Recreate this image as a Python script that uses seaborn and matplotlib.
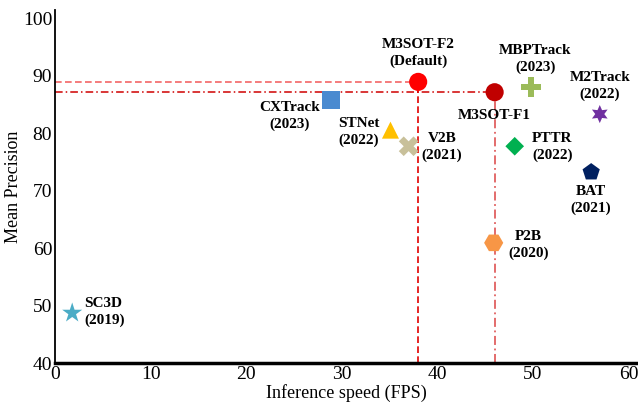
import matplotlib
matplotlib.use("Agg")
import matplotlib.pyplot as plt
import pandas as pd
import seaborn as sns

# values
methods = ["M3SOT-F2", "M3SOT-F1", "CXTrack", "STNet", "V2B", "MBPTrack",
           "M2Track", "PTTR", "BAT", "P2B", "SC3D"]
labels = ["M3SOT-F2\n(Default)", "M3SOT-F1", "CXTrack\n(2023)", "STNet\n(2022)",
          "V2B\n(2021)", "MBPTrack\n(2023)", "M2Track\n(2022)", "PTTR\n(2022)",
          "BAT\n(2021)", "P2B\n(2020)", "SC3D\n(2019)"]
fps = [38.0, 46.0, 28.9, 35.1, 37.0, 49.8, 57.0, 48.1, 56.1, 45.9, 1.8]
precision = [88.9, 87.1, 85.7, 80.5, 77.7, 88.0, 83.3, 77.7, 73.2, 60.9, 48.7]

colors = {
    "M3SOT-F2": "#ff0000", "M3SOT-F1": "#c00000", "CXTrack": "#4a8ad0",
    "STNet": "#ffc000", "V2B": "#c8c09a", "MBPTrack": "#9bbb59",
    "M2Track": "#7030a0", "PTTR": "#00b050", "BAT": "#002060",
    "P2B": "#f79646", "SC3D": "#4bacc6",
}
markers = {
    "M3SOT-F2": "o", "M3SOT-F1": "o", "CXTrack": "s", "STNet": "^",
    "V2B": "X", "MBPTrack": "P", "M2Track": (6, 1, 0), "PTTR": "D",
    "BAT": "p", "P2B": "H", "SC3D": "*",
}
sizes = {
    "M3SOT-F2": 170, "M3SOT-F1": 170, "CXTrack": 170, "STNet": 150,
    "V2B": 200, "MBPTrack": 190, "M2Track": 170, "PTTR": 90,
    "BAT": 170, "P2B": 190, "SC3D": 230,
}
# label offsets (points) and alignment
offsets = {
    "M3SOT-F2": (0, 20.5, "center"), "M3SOT-F1": (0, -16.5, "center"),
    "CXTrack": (-30, -11.5, "center"), "STNet": (-23, -1.5, "center"),
    "V2B": (24, -0.5, "center"), "MBPTrack": (3, 20, "center"),
    "M2Track": (0, 20, "center"), "PTTR": (27, -0.5, "center"),
    "BAT": (0, -20, "center"), "P2B": (25, -1.5, "center"),
    "SC3D": (8.5, 0.5, "left"),
}

df = pd.DataFrame({"method": methods, "label": labels, "fps": fps, "precision": precision})

sns.set_style("white")
plt.rcParams["font.family"] = ["Liberation Serif", "DejaVu Serif"]

fig = plt.figure(figsize=(6.38, 4.03), dpi=100)
ax = fig.add_axes([55 / 638, 40 / 403, 583 / 638, 353 / 403])

# guide lines to the two M3SOT variants
f2 = df[df["method"] == "M3SOT-F2"].iloc[0]
f1 = df[df["method"] == "M3SOT-F1"].iloc[0]
ax.plot([0, f2["fps"]], [f2["precision"]] * 2, ls=(0, (4, 2)), color="#f04040", lw=1.2, alpha=0.8, zorder=1)
ax.plot([f2["fps"]] * 2, [40, f2["precision"]], ls=(0, (4, 2)), color="#e00000", lw=1.2, zorder=1)
ax.plot([0, f1["fps"]], [f1["precision"]] * 2, ls=(0, (5, 2, 1, 2)), color="#d00000", lw=1.1, zorder=1)
ax.plot([f1["fps"]] * 2, [40, f1["precision"]], ls=(0, (5, 2, 1, 2)), color="#e06060", lw=1.3, zorder=1)

sns.scatterplot(data=df, x="fps", y="precision", hue="method", style="method",
                size="method", palette=colors, markers=markers, sizes=sizes,
                linewidth=0, legend=False, ax=ax, zorder=3)

for _, row in df.iterrows():
    dx, dy, ha = offsets[row["method"]]
    ax.annotate(row["label"], (row["fps"], row["precision"]), xytext=(dx, dy),
                textcoords="offset points", ha=ha, va="center", fontsize=11,
                fontweight="bold", linespacing=1.35, color="black")

ax.set_xlim(0, 61)
ax.set_ylim(40, 101.4)
ax.set_xticks(range(0, 61, 10))
ax.set_yticks(range(40, 101, 10))
ax.tick_params(length=0, labelsize=14, pad=2, labelcolor="black")
ax.set_xlabel("Inference speed (FPS)", fontsize=13, labelpad=1, color="black")
ax.set_ylabel("Mean Precision", fontsize=13, color="black")
ax.yaxis.set_label_coords(-0.057, 0.5)
for side in ["top", "right"]:
    ax.spines[side].set_visible(False)
ax.spines["left"].set_color("black")
ax.spines["left"].set_linewidth(1.3)
ax.spines["bottom"].set_color("black")
ax.spines["bottom"].set_linewidth(2.5)

fig.savefig("out.png", dpi=100)
